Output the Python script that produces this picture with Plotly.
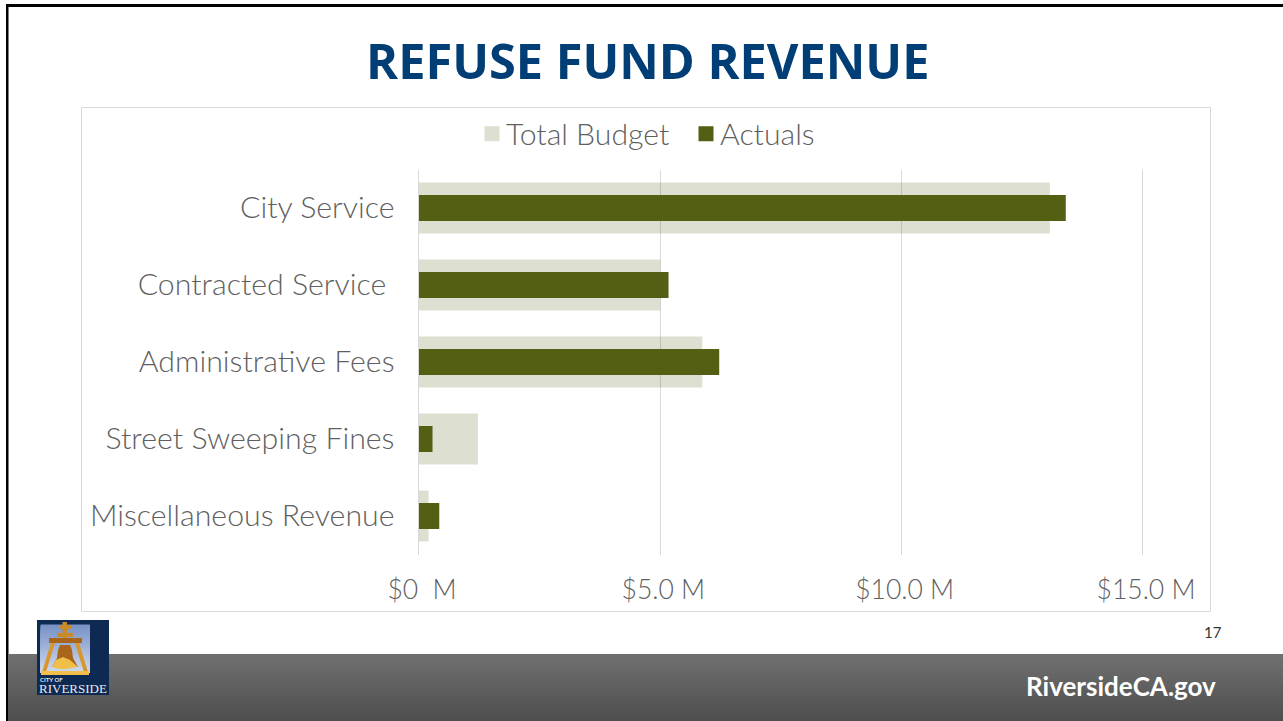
import plotly.graph_objects as go

W, H = 1283, 721
categories = ["City Service", "Contracted Service\u00a0", "Administrative Fees",
              "Street Sweeping Fines", "Miscellaneous Revenue"]
total_budget = [13.07, 5.0, 5.87, 1.22, 0.2]
actuals = [13.4, 5.17, 6.22, 0.28, 0.42]
tick_values = [0, 5, 10, 15]
tick_labels = ["$0\u00a0\u00a0M", "$5.0 M", "$10.0 M", "$15.0 M"]

FONT = "Lato"
GREY = "#5f5f5f"

def X(p): return p / W
def Y(p): return 1 - p / H

def rect(x0, y0, x1, y1, fill, line=None, layer="below", lw=1):
    return dict(type="rect", xref="paper", yref="paper", x0=X(x0), x1=X(x1), y0=Y(y0), y1=Y(y1),
                fillcolor=fill, line=dict(color=line, width=lw) if line else dict(width=0), layer=layer)

def poly(pts, fill, layer="above"):
    d = "M" + "L".join(f"{X(a):.5f},{Y(b):.5f}" for a, b in pts) + "Z"
    return dict(type="path", xref="paper", yref="paper", path=d, fillcolor=fill, line=dict(width=0), layer=layer)

def lerp(c0, c1, t):
    return "rgb(" + ",".join(str(round(a + (b - a) * t)) for a, b in zip(c0, c1)) + ")"

shapes = [
    rect(81.5, 107.5, 1210.5, 611.5, "white", "#d9d9d9"),
    rect(6, 4, 8.5, H, "#000000"),
    rect(6, 4, W, 7, "#000000"),
]
# footer gradient (overlapping bands so that no seams show)
n = 67
for i in range(n):
    shapes.append(rect(8.5, 654 + i, W, H, lerp((112, 112, 112), (78, 78, 78), i / (n - 1))))

# logo
shapes.append(rect(37, 620, 109, 695, "#0e2a52", layer="above"))
for i in range(24):
    shapes.append(rect(40.5, 624.5 + 2 * i, 90, 672.5, lerp((120, 146, 196), (206, 216, 236), i / 23), layer="above"))
gold, dark = "#c98a2a", "#a9651a"
shapes += [
    rect(62.5, 622, 67, 641, gold, layer="above"),
    rect(60, 625, 71, 629, gold, layer="above"),
    rect(57, 633, 73, 637, gold, layer="above"),
    rect(49, 638, 82, 643, dark, layer="above"),
    poly([(51, 643), (55, 643), (46, 672), (42, 672)], "#d9962c"),
    poly([(75, 643), (79, 643), (88, 672), (84, 672)], "#d9962c"),
    rect(41, 671, 89, 675, "#f2c04a", layer="above"),
    poly([(60, 645), (70, 645), (72, 650), (73, 658), (78, 667), (52, 667), (57, 658), (58, 650)], "#a9651a"),
    poly([(52, 667), (56, 660), (63, 657), (70, 660), (78, 667), (66, 669), (60, 669)], "#f0bf4a"),
]

annotations = [
    dict(text="<b>REFUSE FUND REVENUE</b>", x=X(647), y=Y(60), font=dict(family="Open Sans", size=48.7, color="#003e75")),
    dict(text="17", x=X(1213), y=Y(632), font=dict(family=FONT, size=15, color="#333333")),
    dict(text="<b>RiversideCA.gov</b>", x=X(1121), y=Y(686), font=dict(family=FONT, size=26, color="white")),
    dict(text="<b>CITY OF</b>", x=X(51), y=Y(679), font=dict(family=FONT, size=6, color="#dfe5ee")),
    dict(text="RIVERSIDE", x=X(73), y=Y(688), font=dict(family="Liberation Serif", size=13, color="#e6ebf2")),
]
for a in annotations:
    a.update(xref="paper", yref="paper", showarrow=False, xanchor="center", yanchor="middle")

# axis runs a hair past 0 and 15 so that the gridlines at both ends are kept
PAD = 0.05
PX = 724 / 15
fig = go.Figure()
fig.add_bar(y=categories, x=total_budget, name="Total Budget", orientation="h", width=0.66,
            marker=dict(color="rgba(84,96,20,0.2)", line=dict(width=0)))
fig.add_bar(y=categories, x=actuals, name="Actuals", orientation="h", width=0.335,
            marker=dict(color="#545f14", line=dict(width=0)))
fig.update_layout(
    width=W, height=H, autosize=False, margin=dict(l=0, r=0, t=0, b=0),
    barmode="overlay", paper_bgcolor="white", plot_bgcolor="rgba(0,0,0,0)",
    font=dict(family=FONT, color=GREY),
    shapes=shapes, annotations=annotations,
    legend=dict(orientation="h", x=X(680), y=Y(134), xanchor="center", yanchor="middle",
                font=dict(size=30.2, color=GREY, weight=300), bgcolor="rgba(0,0,0,0)", itemwidth=30,
                traceorder="normal", entrywidth=169, entrywidthmode="pixels"),
    xaxis=dict(domain=[X(419 - PAD * PX), X(1143 + PAD * PX)], range=[-PAD, 15 + PAD], tickmode="array",
               tickvals=tick_values, ticktext=tick_labels, tickfont=dict(size=26.5, color=GREY, weight=300),
               ticklabelshift=3,
               showgrid=True, gridcolor="#d9d9d9", gridwidth=1, zeroline=False, showline=False,
               ticks="outside", ticklen=12, tickcolor="rgba(0,0,0,0)", automargin=False),
    yaxis=dict(domain=[Y(554.5), Y(169.5)], autorange="reversed", tickfont=dict(size=30.3, color=GREY, weight=300),
               ticklabelshift=1,
               showgrid=False, zeroline=False, showline=False, ticks="outside", ticklen=15,
               tickcolor="rgba(0,0,0,0)", automargin=False),
)
post = """
document.body.style.margin='0';document.body.style.overflow='hidden';
setTimeout(function(){
  document.querySelectorAll('.legendsymbols path').forEach(function(p){
    var m=/translate\\(([-\\d.]+),\\s*([-\\d.]+)\\)/.exec(p.getAttribute('transform')||'');
    if(!m) return;
    p.setAttribute('d','M7.5,7.5H-7.5V-7.5H7.5Z');
    p.setAttribute('transform','translate('+(parseFloat(m[1])+6)+','+m[2]+')');
  });
},50);
"""
fig.write_html("out.html", config={"displayModeBar": False}, post_script=post)
